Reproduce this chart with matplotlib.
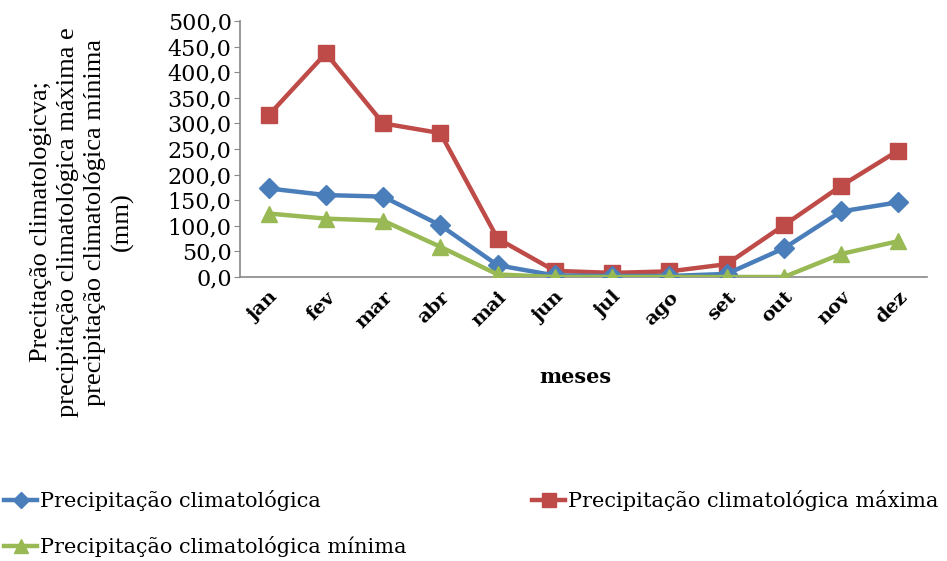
import matplotlib
matplotlib.use("Agg")
import matplotlib.pyplot as plt
from matplotlib.ticker import FuncFormatter, MultipleLocator
from matplotlib.lines import Line2D

months = ["jan", "fev", "mar", "abr", "mai", "jun", "jul", "ago", "set", "out", "nov", "dez"]
prec_media = [173, 160, 157, 101, 23, 3, 2, 2, 6, 56, 128, 146]
prec_max = [316, 437, 300, 281, 75, 12, 8, 11, 25, 101, 178, 247]
prec_min = [124, 114, 110, 59, 5, 0, 0, 0, 0, 0, 45, 70]

series_names = ["Precipitação climatológica",
                "Precipitação climatológica máxima",
                "Precipitação climatológica mínima"]
ylabel = ("Precitação climatologicva;\nprecipitação climatológica máxima e\n"
          "precipitação climatológica mínima\n(mm)")
xlabel = "meses"

plt.rcParams['font.family'] = ['DejaVu Serif', 'Liberation Serif']

W, H = 947, 561
fig = plt.figure(figsize=(W / 100, H / 100), dpi=100)
ax = fig.add_axes([240 / W, 1 - 277 / H, (927 - 240) / W, (277 - 21) / H])

x = list(range(len(months)))
c_blue, c_red, c_green = "#4A7EBB", "#BE4B48", "#98B954"
ax.plot(x, prec_max, color=c_red, lw=3.2, marker="s", ms=12, zorder=2)
ax.plot(x, prec_media, color=c_blue, lw=3.2, marker="D", ms=10, zorder=3)
ax.plot(x, prec_min, color=c_green, lw=3.2, marker="^", ms=12, zorder=4)

ax.set_xlim(-0.5, len(months) - 0.5)
ax.set_ylim(0, 500)
ax.yaxis.set_major_locator(MultipleLocator(50))
ax.yaxis.set_major_formatter(FuncFormatter(lambda v, p: f"{v:.1f}".replace(".", ",")))
ax.set_xticks(x)
ax.set_xticklabels(months, rotation=45, ha="right", va="top", rotation_mode="anchor",
                   fontsize=14, fontweight="bold")
ax.tick_params(axis="x", length=0, pad=8)
ax.tick_params(axis="y", length=4, color="#888888", labelsize=16, pad=2)
for s in ["top", "right"]:
    ax.spines[s].set_visible(False)
for s in ["left", "bottom"]:
    ax.spines[s].set_color("#888888")
    ax.spines[s].set_linewidth(1.2)

ax.set_xlabel(xlabel, fontsize=15, fontweight="bold", va="center")
ax.xaxis.set_label_coords((575 - 240) / 687, -(377 - 277) / 256)

fig.text(82 / W, 1 - 222 / H, ylabel, rotation=90, ha="center", va="center",
         multialignment="center", fontsize=19, linespacing=1.3,
         family=["Liberation Serif", "DejaVu Serif"])

handles = [Line2D([], [], color=c_blue, lw=3.2, marker="D", ms=8),
           Line2D([], [], color=c_green, lw=3.2, marker="^", ms=10),
           Line2D([], [], color=c_red, lw=3.2, marker="s", ms=10)]
labels = [series_names[0], series_names[2], series_names[1]]
fig.legend(handles, labels, loc="upper left", bbox_to_anchor=(4 / W, 1 - 490 / H),
           ncol=2, frameon=False, fontsize=15, handlelength=1.6, handletextpad=0.15,
           columnspacing=6.0, labelspacing=1.2, borderpad=0, borderaxespad=0)

fig.savefig("out.png", dpi=100)
